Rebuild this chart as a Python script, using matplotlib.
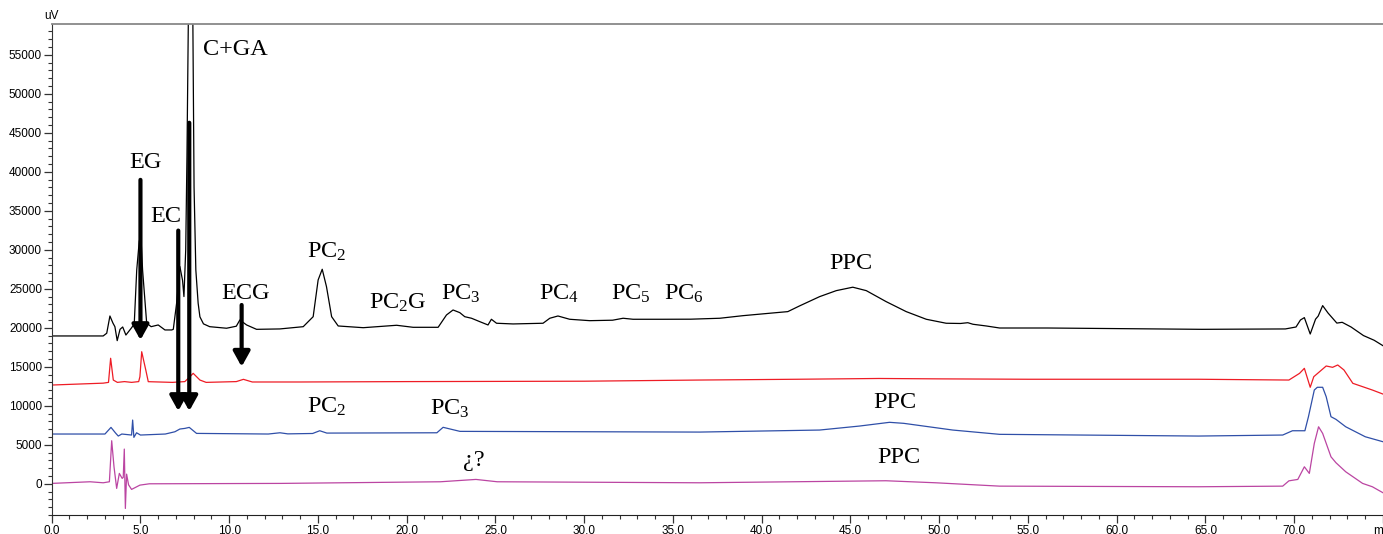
import matplotlib
matplotlib.use('Agg')
import matplotlib.pyplot as plt
from matplotlib.ticker import MultipleLocator, FixedLocator, FixedFormatter

# ---------------- data (retention time in min, signal in uV) ----------------
black_time = [0, 2.9, 3.1, 3.28, 3.45, 3.56, 3.69, 3.85, 4.0, 4.18, 4.5, 4.65, 4.79, 4.93, 5.02,
              5.12, 5.35, 5.6, 6.0, 6.38, 6.76, 6.85, 7.04, 7.22, 7.37, 7.45, 7.55, 7.62, 7.7,
              7.82, 7.95, 8.02, 8.12, 8.25, 8.35, 8.55, 8.9, 9.85, 10.4, 10.6, 10.98, 11.54,
              12.85, 14.17, 14.73, 15.01, 15.24, 15.48, 15.77, 16.14, 17.55, 19.43, 20.36,
              21.77, 22.24, 22.61, 22.99, 23.27, 23.65, 24.12, 24.58, 24.77, 25.06, 25.99,
              27.68, 28.06, 28.52, 29.18, 30.31, 31.6, 32.19, 32.75, 34.44, 36.0, 37.64, 38.94,
              40.44, 41.47, 42.13, 43.26, 44.2, 45.13, 45.89, 47.01, 48.14, 49.27, 50.39, 51.2,
              51.61, 51.9, 52.65, 53.4, 56.1, 64.8, 69.5, 70.1, 70.35, 70.57, 70.9, 71.2, 71.35,
              71.6, 71.9, 72.4, 72.7, 73.2, 73.9, 74.5, 75.0]
black_uv = [18950, 18950, 19300, 21510, 20600, 20140, 18350, 19800, 20100, 19070, 20000, 20500,
            27400, 31050, 32000, 27400, 20600, 20140, 20360, 19720, 19720, 19800, 23200, 27850,
            26100, 24000, 30000, 42000, 60000, 80000, 60000, 38000, 27400, 23150, 21400, 20500,
            20140, 19940, 20200, 21000, 20360, 19800, 19850, 20140, 21420, 26130, 27500, 25270,
            21420, 20230, 20010, 20320, 20060, 20060, 21640, 22280, 21940, 21420, 21220, 20780,
            20360, 21090, 20580, 20490, 20580, 21220, 21510, 21090, 20910, 20970, 21220, 21090,
            21090, 21100, 21220, 21550, 21860, 22070, 22800, 23990, 24760, 25200, 24760, 23350,
            22070, 21090, 20580, 20550, 20650, 20450, 20230, 19970, 19970, 19800, 19850, 20100,
            21000, 21300, 19200, 21100, 21500, 22840, 21900, 20600, 20700, 20100, 19000, 18400,
            17700]

red_time = [0, 2.9, 3.2, 3.32, 3.47, 3.7, 4.1, 4.5, 4.9, 4.97, 5.07, 5.3, 5.44, 6.8, 7.5, 7.79,
            7.97, 8.35, 8.7, 10.4, 10.8, 11.3, 14, 20, 30, 36.5, 42, 46.6, 50, 55, 64.6, 69.7,
            70.3, 70.57, 70.9, 71.1, 71.8, 72.16, 72.45, 72.8, 73.3, 73.85, 74.4, 75.0]
red_uv = [12660, 12900, 13000, 16090, 13300, 13000, 13100, 13000, 13100, 13730, 16930, 14590,
          13090, 13000, 13100, 13730, 14160, 13300, 13000, 13100, 13390, 13050, 13050, 13100,
          13150, 13300, 13400, 13500, 13450, 13400, 13400, 13300, 14160, 14800, 12370, 13730,
          15100, 14930, 15230, 14590, 12880, 12450, 12020, 11500]

blue_time = [0, 3.0, 3.34, 3.6, 3.75, 3.95, 4.5, 4.56, 4.63, 4.78, 5.0, 6.4, 6.94, 7.22, 7.5,
             7.75, 8.16, 12.2, 12.86, 13.3, 14.7, 15.1, 15.5, 21.7, 22.05, 23.0, 36.5, 43.26,
             45.5, 47.2, 48.0, 50.76, 53.4, 64.6, 69.35, 69.9, 70.6, 70.8, 71.13, 71.3, 71.6,
             71.8, 72.07, 72.35, 72.9, 74.0, 75.0]
blue_uv = [6380, 6380, 7230, 6500, 6120, 6380, 6250, 8170, 5950, 6540, 6250, 6380, 6670, 7020,
           7100, 7230, 6460, 6380, 6540, 6400, 6450, 6800, 6500, 6540, 7240, 6720, 6630, 6890,
           7400, 7880, 7750, 6890, 6340, 6120, 6250, 6800, 6800, 8600, 12020, 12370, 12370,
           11160, 8600, 8260, 7310, 6030, 5390]

magenta_time = [0, 2.16, 2.9, 3.25, 3.38, 3.51, 3.66, 3.81, 3.97, 4.03, 4.09, 4.15, 4.22, 4.33,
                4.5, 4.97, 5.5, 12.9, 21.9, 23.9, 25.1, 36.5, 47.0, 49.8, 53.4, 64.6, 69.35,
                69.7, 70.2, 70.57, 70.85, 71.13, 71.37, 71.6, 72.07, 72.35, 72.9, 73.85, 74.4,
                75.0]
magenta_uv = [50, 260, 130, 260, 5520, 2180, -590, 1330, 690, 820, 4450, -3160, 1240, -130,
              -720, -170, 0, 50, 260, 560, 260, 130, 390, 130, -300, -380, -300, 380, 560, 2180,
              1330, 5180, 7310, 6460, 3460, 2700, 1540, 50, -380, -1150]

y_ticks = [0, 5000, 10000, 15000, 20000, 25000, 30000, 35000, 40000, 45000, 50000, 55000]
x_ticks = [0, 5, 10, 15, 20, 25, 30, 35, 40, 45, 50, 55, 60, 65, 70, 75]
x_tick_labels = ['0.0', '5.0', '10.0', '15.0', '20.0', '25.0', '30.0', '35.0', '40.0', '45.0',
                 '50.0', '55.0', '60.0', '65.0', '70.0', 'min']

# peak labels: (text, time, signal at text baseline)
labels = [
    ('C+GA', 10.32, 55000),
    ('EG', 5.27, 40460),
    ('EC', 6.43, 33610),
    ('ECG', 10.9, 23660),
    (r'PC$_\mathregular{2}$', 15.5, 29000),
    (r'PC$_\mathregular{2}$G', 19.5, 22500),
    (r'PC$_\mathregular{3}$', 23.05, 23570),
    (r'PC$_\mathregular{4}$', 28.6, 23570),
    (r'PC$_\mathregular{5}$', 32.6, 23570),
    (r'PC$_\mathregular{6}$', 35.6, 23570),
    ('PPC', 45.0, 27560),
    (r'PC$_\mathregular{2}$', 15.5, 9100),
    (r'PC$_\mathregular{3}$', 22.45, 8900),
    ('¿?', 23.8, 2250),
    ('PPC', 47.5, 9670),
    ('PPC', 47.74, 2620),
]

# arrows: (time, tail signal, tip signal)
arrows = [
    (5.0, 38960, 18430),
    (7.13, 32460, 9330),
    (7.75, 46280, 9330),
    (10.7, 22920, 15010),
]

# ---------------- figure ----------------
plt.rcParams['mathtext.fontset'] = 'custom'
plt.rcParams['mathtext.rm'] = 'Liberation Serif'
plt.rcParams['mathtext.it'] = 'Liberation Serif:italic'
plt.rcParams['mathtext.bf'] = 'Liberation Serif:bold'

fig = plt.figure(figsize=(13.83, 5.34), dpi=100)
ax = fig.add_axes([51.7 / 1383, 19 / 534, 1 - 51.7 / 1383, (534 - 19 - 24.3) / 534])

lw = 0.9
ax.plot(black_time, black_uv, color='black', lw=lw)
ax.plot(red_time, red_uv, color='#ee1c25', lw=lw)
ax.plot(blue_time, blue_uv, color='#2f4fa8', lw=lw)
ax.plot(magenta_time, magenta_uv, color='#bb45a2', lw=lw)

for t, y0, y1 in arrows:
    ax.annotate('', xy=(t, y1), xytext=(t, y0),
                arrowprops=dict(arrowstyle='-|>,head_width=0.5,head_length=0.9',
                                lw=3.0, color='black', shrinkA=0, shrinkB=0,
                                mutation_scale=10))

for txt, t, y in labels:
    ax.text(t, y, txt, ha='center', va='baseline', fontsize=17.5,
            family='Liberation Serif', color='black')

ax.set_xlim(0, 75)
ax.set_ylim(-4000, 58900)

ax.xaxis.set_major_locator(FixedLocator(x_ticks))
ax.xaxis.set_major_formatter(FixedFormatter(x_tick_labels))
ax.xaxis.set_minor_locator(MultipleLocator(1))
ax.yaxis.set_major_locator(FixedLocator(y_ticks))
ax.yaxis.set_minor_locator(MultipleLocator(1000))

for lab in ax.get_xticklabels() + ax.get_yticklabels():
    lab.set_family('Liberation Sans')
    lab.set_fontsize(8.5)

ax.tick_params(axis='both', which='major', direction='out', length=5.5, width=0.9,
               colors='#333333', pad=1.5)
ax.tick_params(axis='both', which='minor', direction='out', length=3.2, width=0.8,
               colors='#333333')
ax.tick_params(axis='both', labelcolor='black')

ax.spines['right'].set_visible(False)
ax.spines['top'].set_color('#888888')
ax.spines['top'].set_linewidth(1.3)
ax.spines['left'].set_color('#333333')
ax.spines['bottom'].set_color('#222222')

ax.text(0, 1.004, 'uV', transform=ax.transAxes, ha='center', va='bottom',
        fontsize=8.5, family='Liberation Sans')

fig.savefig('out.png', dpi=100)
